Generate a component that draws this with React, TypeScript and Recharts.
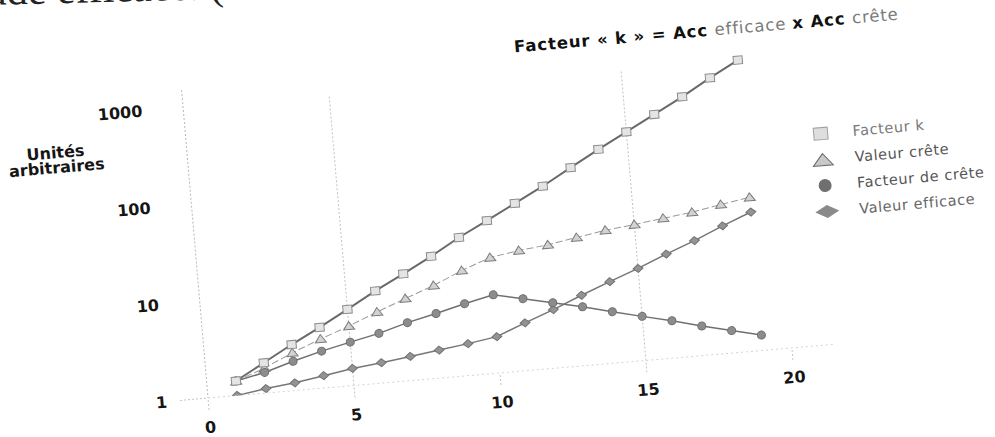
import React from "react";
import { LineChart, Line, XAxis, YAxis, ReferenceLine } from "recharts";

const xValues = [1, 2, 3, 4, 5, 6, 7, 8, 9, 10, 11, 12, 13, 14, 15, 16, 17, 18, 19];
const facteurK = [1.41, 2.05, 2.98, 4.22, 6.1, 8.9, 12.6, 18.0, 26.5, 37.3, 53, 75, 110, 160, 228, 325, 466, 689, 990];
const valeurCrete = [1.41, 1.8, 2.45, 3.2, 4.1, 5.4, 7.0, 9.0, 12.1, 15.5, 17.3, 18.6, 20.9, 23.4, 25.2, 27.6, 30, 34, 38];
const facteurCrete = [1.41, 1.63, 2.0, 2.4, 2.8, 3.25, 3.95, 4.62, 5.5, 6.4, 5.5, 4.7, 4.03, 3.38, 2.85, 2.42, 2.01, 1.7, 1.44];
const valeurEfficace = [1.0, 1.11, 1.2, 1.34, 1.5, 1.62, 1.77, 1.94, 2.13, 2.37, 3.1, 4.0, 5.3, 6.9, 8.9, 11.8, 15.3, 20.5, 26.8];

const xTicks = [0, 5, 10, 15, 20];
const yTicks = [1, 10, 100, 1000];
const gridX = [5, 15];

const FONT = '"DejaVu Sans", Verdana, sans-serif';

const data = xValues.map((x, i) => ({
    x,
    k: facteurK[i],
    crete: valeurCrete[i],
    fc: facteurCrete[i],
    eff: valeurEfficace[i],
}));

const SquareDot = (p: any) => (
    <rect key={`s${p.index}`} x={p.cx - 4.5} y={p.cy - 4} width={9} height={8} fill="#e4e4e4" stroke="#8d8d8d" strokeWidth={1} />
);
const TriangleDot = (p: any) => (
    <path key={`t${p.index}`} d={`M${p.cx},${p.cy - 4.5}L${p.cx + 5.5},${p.cy + 3.5}L${p.cx - 5.5},${p.cy + 3.5}Z`} fill="#d2d2d2" stroke="#7a7a7a" strokeWidth={1} />
);
const CircleDot = (p: any) => (
    <circle key={`c${p.index}`} cx={p.cx} cy={p.cy} r={4} fill="#8c8c8c" stroke="#6e6e6e" strokeWidth={1} />
);
const DiamondDot = (p: any) => (
    <path key={`d${p.index}`} d={`M${p.cx},${p.cy - 4}L${p.cx + 5},${p.cy}L${p.cx},${p.cy + 4}L${p.cx - 5},${p.cy}Z`} fill="#939393" stroke="#727272" strokeWidth={1} />
);

const YTick = ({ x, y, payload }: any) => (
    <g>
        {payload.value === 1 && (
            <line x1={x + 13} x2={x + 41} y1={y} y2={y} stroke="#c4c4c4" strokeDasharray="2 2" />
        )}
        <text x={x} y={y} dy={6} textAnchor="end" fill="#151515" fontFamily={FONT} fontWeight="bold" fontSize={16}>
            {payload.value}
        </text>
    </g>
);

const XTick = ({ x, y, payload }: any) => (
    <text x={x} y={y} dy={11} textAnchor="middle" fill="#151515" fontFamily={FONT} fontWeight="bold" fontSize={16}>
        {payload.value}
    </text>
);

const legendItems = [
    { label: "Facteur k", color: "#7a7a7a", shape: "square" },
    { label: "Valeur crête", color: "#555", shape: "triangle" },
    { label: "Facteur de crête", color: "#555", shape: "circle" },
    { label: "Valeur efficace", color: "#666", shape: "diamond" },
];

function LegendMarker({ shape }: { shape: string }) {
    return (
        <svg width={26} height={16}>
            {shape === "square" && <rect x={6} y={2} width={14} height={12} fill="#dedede" stroke="#a0a0a0" />}
            {shape === "triangle" && <path d="M13,2L23,14L3,14Z" fill="#c8c8c8" stroke="#666" />}
            {shape === "circle" && <circle cx={13} cy={8} r={6.5} fill="#6f6f6f" />}
            {shape === "diamond" && <path d="M13,1.5L25,8L13,14.5L1,8Z" fill="#8a8a8a" />}
        </svg>
    );
}

export default function App() {
    return (
        <div style={{ position: "absolute", left: 0, top: 0, width: 995, height: 437, overflow: "hidden", background: "#fff" }}>
            {/* bout de texte du document scanné */}
            <div
                style={{
                    position: "absolute", left: -14, top: -33, whiteSpace: "nowrap",
                    fontFamily: '"Liberation Serif", "Times New Roman", serif', fontSize: 42, color: "#222",
                    transform: "rotate(-1.5deg)", transformOrigin: "0 40px",
                }}
            >
                ude efficace. (
            </div>

            <div style={{ position: "absolute", left: 0, top: 0, width: 995, height: 437, transform: "rotate(-4.9deg)", transformOrigin: "208px 398px" }}>
                <LineChart width={995} height={437} data={data} margin={{ top: 89, right: 157, bottom: 0, left: 148 }}>
                    <XAxis
                        type="number"
                        dataKey="x"
                        domain={[0, 21.5]}
                        ticks={xTicks}
                        allowDataOverflow
                        height={39}
                        axisLine={{ stroke: "#d4d4d4", strokeDasharray: "2 3" }}
                        tickLine={{ stroke: "#c4c4c4", strokeDasharray: "2 2" }}
                        tickSize={12}
                        tickMargin={12}
                        tick={<XTick />}
                    />
                    <YAxis
                        type="number"
                        scale="log"
                        domain={[1, 1500]}
                        ticks={yTicks}
                        allowDataOverflow
                        width={60}
                        axisLine={{ stroke: "#b8b8b8", strokeDasharray: "2 2" }}
                        tickLine={false}
                        tickSize={6}
                        tickMargin={35}
                        tick={<YTick />}
                    />
                    {gridX.map((g) => (
                        <ReferenceLine
                            key={g}
                            segment={[{ x: g, y: 1 }, { x: g, y: 1000 }]}
                            stroke="#c2c2c2"
                            strokeDasharray="2 2"
                        />
                    ))}
                    <Line dataKey="crete" stroke="#9a9a9a" strokeWidth={1} strokeDasharray="7 3" dot={TriangleDot} isAnimationActive={false} />
                    <Line dataKey="eff" stroke="#777" strokeWidth={1.5} dot={DiamondDot} isAnimationActive={false} />
                    <Line dataKey="fc" stroke="#707070" strokeWidth={1.5} dot={CircleDot} isAnimationActive={false} />
                    <Line dataKey="k" stroke="#6a6a6a" strokeWidth={2} dot={SquareDot} isAnimationActive={false} />
                </LineChart>

                <div
                    style={{
                        position: "absolute", left: 17, top: 133, width: 120, textAlign: "center",
                        fontFamily: FONT, fontWeight: "bold", fontSize: 16, lineHeight: "15px", color: "#151515",
                    }}
                >
                    Unités
                    <br />
                    arbitraires
                </div>

                <div
                    style={{
                        position: "absolute", left: 543, top: 65, whiteSpace: "nowrap",
                        fontFamily: FONT, fontSize: 16.5, lineHeight: "20px", letterSpacing: 0.9, color: "#111",
                    }}
                >
                    <b>Facteur « k » = Acc </b>
                    <span style={{ color: "#7a7a7a" }}>efficace </span>
                    <b>x Acc </b>
                    <span style={{ color: "#7a7a7a" }}>crête</span>
                </div>

                <div style={{ position: "absolute", left: 828, top: 174 }}>
                    {legendItems.map((it) => (
                        <div key={it.label} style={{ display: "flex", alignItems: "center", height: 26 }}>
                            <LegendMarker shape={it.shape} />
                            <span
                                style={{
                                    marginLeft: 19, fontFamily: FONT, fontSize: 14.5, letterSpacing: 0.6,
                                    color: it.color, whiteSpace: "nowrap",
                                }}
                            >
                                {it.label}
                            </span>
                        </div>
                    ))}
                </div>
            </div>
        </div>
    );
}
